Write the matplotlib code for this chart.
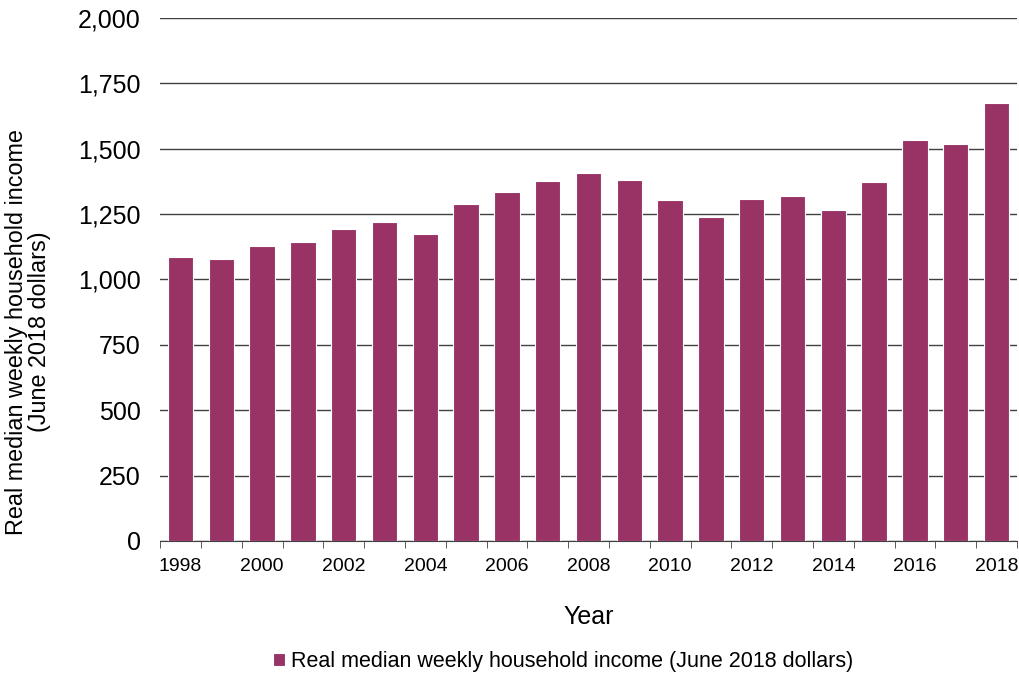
import matplotlib.pyplot as plt
from matplotlib.ticker import FuncFormatter, MultipleLocator

plt.rcParams['font.family'] = ['Liberation Sans', 'DejaVu Sans']

years = list(range(1998, 2019))
income = [1085, 1078, 1128, 1143, 1194, 1221, 1174, 1287, 1333, 1376, 1407,
          1379, 1302, 1237, 1306, 1317, 1265, 1373, 1532, 1516, 1675]
bar_color = '#993366'

fig = plt.figure(figsize=(10.2, 6.83), dpi=100)
ax = fig.add_axes([0.157, 0.208, 0.84, 0.766])

ax.bar(years, income, width=0.62, color=bar_color, edgecolor='white',
       linewidth=0.8, zorder=3,
       label='Real median weekly household income (June 2018 dollars)')

ax.set_xlim(1997.5, 2018.5)
ax.set_ylim(0, 2000)
ax.yaxis.set_major_locator(MultipleLocator(250))
ax.yaxis.set_major_formatter(FuncFormatter(lambda v, p: f'{int(v):,}'))
ax.grid(axis='y', color='#404040', linewidth=1, zorder=0)

# x ticks: labels every other year, tick marks between bars
ax.set_xticks(years[::2])
ax.set_xticklabels([str(y) for y in years[::2]])
ax.set_xticks([y + 0.5 for y in range(1997, 2019)], minor=True)
ax.tick_params(axis='x', which='major', length=0, labelsize=14, pad=12)
ax.tick_params(axis='x', which='minor', length=5, color='#404040')
ax.tick_params(axis='y', length=0, labelsize=18, pad=14)

for s in ['top', 'right', 'left']:
    ax.spines[s].set_visible(False)
ax.spines['bottom'].set_color('#404040')

ax.set_xlabel('Year', fontsize=18, labelpad=22)
ax.set_ylabel('Real median weekly household income\n(June 2018 dollars)',
              fontsize=16.8, linespacing=1.0)
ax.yaxis.set_label_coords(-0.127, 0.40)

fig.legend(loc='lower center', bbox_to_anchor=(0.552, -0.012), frameon=False,
           fontsize=15.5, handlelength=0.55, handleheight=0.55, handletextpad=0.3)

fig.savefig('out.png', dpi=100)
